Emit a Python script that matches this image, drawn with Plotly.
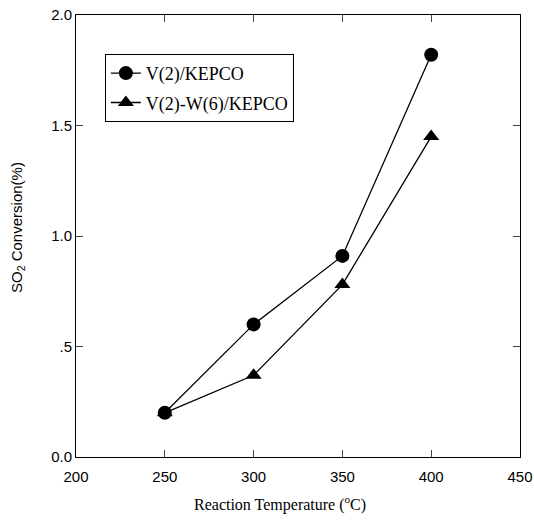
import plotly.graph_objects as go

temps = [250, 300, 350, 400]
v_kepco = [0.20, 0.60, 0.91, 1.82]
vw_kepco = [0.20, 0.37, 0.78, 1.45]
x_ticks = [200, 250, 300, 350, 400, 450]
y_ticks = [0.0, 0.5, 1.0, 1.5, 2.0]
y_ticktext = ["0.0", ".5", "1.0", "1.5", "2.0"]

fig = go.Figure()
fig.add_trace(go.Scatter(x=temps, y=v_kepco, mode="lines+markers", name="V(2)/KEPCO",
                         legendgroup="a",
                         line=dict(color="black", width=1.3),
                         marker=dict(symbol="circle", size=14, color="black")))
fig.add_trace(go.Scatter(x=temps, y=vw_kepco, mode="lines+markers", name="V(2)-W(6)/KEPCO",
                         legendgroup="b",
                         line=dict(color="black", width=1.3),
                         marker=dict(symbol="triangle-up", size=14, color="black")))

fig.update_layout(
    width=534, height=526,
    margin=dict(l=76, r=14, t=15, b=69),
    paper_bgcolor="white", plot_bgcolor="white",
    font=dict(family="Liberation Serif", color="black"),
    showlegend=True,
    legend=dict(x=0.065, y=0.912, xanchor="left", yanchor="top",
                bordercolor="black", borderwidth=1, bgcolor="white",
                font=dict(family="Liberation Serif", size=18),
                itemwidth=30, tracegroupgap=3, traceorder="grouped"),
    xaxis=dict(range=[200, 450], tickvals=x_ticks, ticks="inside", ticklen=7,
               showline=True, linecolor="black", linewidth=1, mirror="ticks",
               showgrid=False, zeroline=False, automargin=False,
               ticklabelstandoff=6,
               tickfont=dict(family="Liberation Sans", size=15)),
    yaxis=dict(range=[0, 2.0], tickvals=y_ticks, ticktext=y_ticktext, ticks="inside", ticklen=7,
               showline=True, linecolor="black", linewidth=1, mirror="ticks",
               showgrid=False, zeroline=False, automargin=False,
               tickfont=dict(family="Liberation Sans", size=15)),
    annotations=[
        dict(text="Reaction Temperature (<sup>o</sup>C)", xref="paper", yref="paper",
             x=(280 - 76) / 444, y=-(503 - 457) / 442, xanchor="center", yanchor="middle",
             showarrow=False, font=dict(family="Liberation Serif", size=16)),
        dict(text="SO<sub>2</sub> Conversion(%)", xref="paper", yref="paper",
             x=-(76 - 18) / 444, y=(457 - 228) / 442, xanchor="center", yanchor="middle",
             textangle=-90, showarrow=False,
             font=dict(family="Liberation Sans", size=15)),
    ],
)

fig.write_html("out.html")
